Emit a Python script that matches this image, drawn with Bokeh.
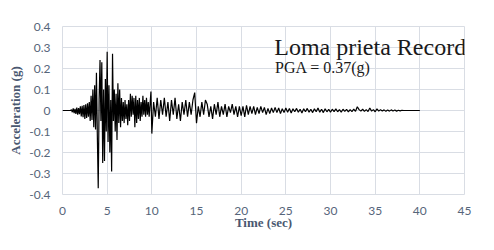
from bokeh.plotting import figure
from bokeh.models import Range1d, FixedTicker, Label
from bokeh.embed import file_html
from bokeh.resources import INLINE

# ---- data ----
# acceleration (g), sampled every 0.1 s from 0.0 to 9.9 s
ACC_0_10 = [
    0, 0, 0, 0, 0, 0, 0, 0, 0, 0,
    0.004, -0.008, 0.01, -0.012, 0.008, -0.016, 0.014, -0.02, 0.012, -0.018,
    0.02, -0.028, 0.022, -0.032, 0.026, -0.04, 0.03, -0.036, 0.034, -0.03,
    0.04, -0.05, 0.07, -0.045, 0.1, -0.08, 0.12, -0.09, 0.18, -0.12,
    -0.37, 0.05, 0.24, -0.05, 0.23, -0.25, 0.1, -0.24, 0.15, -0.1,
    0.28, -0.15, 0.12, -0.2, 0.05, -0.29, 0.27, -0.05, 0.1, -0.1,
    0.08, -0.14, 0.13, -0.06, 0.1, -0.08, 0.06, -0.05, 0.04, -0.06,
    0.05, -0.04, 0.03, -0.07, 0.05, -0.05, 0.08, -0.03, 0.07, -0.02,
    0.06, -0.08, 0.07, -0.06, 0.05, -0.04, 0.06, -0.05, 0.04, -0.03,
    0.07, -0.02, 0.05, -0.03, 0.06, -0.02, 0.04, -0.03, 0.03, 0.09,
]
# acceleration (g), sampled every 0.2 s from 10.0 to 40.0 s
ACC_10_40 = [
    -0.11, 0.04, -0.03, 0.06, -0.04, 0.05, -0.02, 0.06, -0.03, 0.04,
    -0.05, 0.05, -0.02, 0.06, -0.04, 0.03, -0.05, 0.04, -0.02, 0.05,
    -0.03, 0.04, -0.02, 0.05, 0.085, -0.06, 0.02, -0.03, 0.04, -0.02,
    0.05, 0.03, -0.03, 0.02, -0.04, 0.03, -0.02, 0.04, -0.03, 0.02,
    -0.02, 0.03, -0.03, 0.02, -0.01, 0.03, -0.02, 0.02, -0.03, 0.02,
    -0.025, 0.02, -0.03, 0.025, -0.02, 0.02, -0.015, 0.02, -0.02, 0.015,
    -0.015, 0.02, -0.01, 0.015, -0.02, 0.01, -0.015, 0.012, -0.01, 0.015,
    -0.01, 0.012, -0.015, 0.008, -0.01, 0.012, -0.008, 0.01, -0.012, 0.008,
    -0.006, 0.01, -0.008, 0.006, -0.012, 0.008, -0.006, 0.01, -0.008, 0.006,
    -0.01, 0.008, -0.006, 0.012, -0.008, 0.006, -0.01, 0.008, -0.006, 0.005,
    -0.008, 0.006, -0.005, 0.008, -0.006, 0.004, -0.008, 0.006, -0.004, 0.005,
    -0.006, 0.004, -0.005, 0.006, -0.004, 0.018, 0.004, -0.003, 0.006, -0.004,
    0.004, -0.005, 0.012, -0.003, 0.004, -0.006, 0.008, -0.003, 0.004, -0.002,
    0.003, -0.004, 0.002, -0.003, 0.003, -0.002, 0.002, -0.003, 0.001, -0.002,
    0.001, 0, 0, 0, 0, 0, 0, 0, 0, 0,
    0,
]
X_TICKS = [0, 5, 10, 15, 20, 25, 30, 35, 40, 45]
X_TICK_LABELS = ["0", "5", "10", "15", "20", "25", "30", "35", "40", "45"]
Y_TICKS = [-0.4, -0.3, -0.2, -0.1, 0, 0.1, 0.2, 0.3, 0.4]
Y_TICK_LABELS = ["-0.4", "-0.3", "-0.2", "-0.1", "0", "0.1", "0.2", "0.3", "0.4"]
TITLE = "Loma prieta Record"
SUBTITLE = "PGA = 0.37(g)"
X_LABEL = "Time (sec)"
Y_LABEL = "Acceleration (g)"

t = [round(i * 0.1, 1) for i in range(len(ACC_0_10))] + \
    [round(10 + i * 0.2, 1) for i in range(len(ACC_10_40))]
acc = ACC_0_10 + ACC_10_40

GRID = "#d9dde4"
TICK_COLOR = "#56657a"
LABEL_COLOR = "#4a5870"

p = figure(width=478, height=234, output_backend="svg", toolbar_location=None,
           x_range=Range1d(0, 45), y_range=Range1d(-0.4, 0.4),
           min_border_left=62, min_border_right=14, min_border_top=26, min_border_bottom=40)

p.line(t, acc, line_color="black", line_width=1.2)

p.xaxis.ticker = FixedTicker(ticks=X_TICKS)
p.yaxis.ticker = FixedTicker(ticks=Y_TICKS)
p.xaxis.major_label_overrides = dict(zip(X_TICKS, X_TICK_LABELS))
p.yaxis.major_label_overrides = dict(zip(Y_TICKS, Y_TICK_LABELS))

for ax in (p.xaxis[0], p.yaxis[0]):
    ax.axis_line_color = None
    ax.major_tick_line_color = None
    ax.minor_tick_line_color = None
    ax.major_tick_out = 0
    ax.major_tick_in = 0
    ax.major_label_text_font = "Lato"
    ax.major_label_text_font_size = "12px"
    ax.major_label_text_color = TICK_COLOR
    ax.axis_label_text_font = "Liberation Serif"
    ax.axis_label_text_font_style = "bold"
    ax.axis_label_text_font_size = "13px"
    ax.axis_label_text_color = LABEL_COLOR

p.xaxis.axis_label = X_LABEL
p.yaxis.axis_label = Y_LABEL
p.xaxis.major_label_standoff = 12
p.yaxis.major_label_standoff = 12
p.xaxis.axis_label_standoff = -3
p.yaxis.axis_label_standoff = 3

p.xgrid.grid_line_color = GRID
p.ygrid.grid_line_color = GRID
p.outline_line_color = GRID
p.background_fill_color = "white"
p.border_fill_color = "white"

# annotations
p.add_layout(Label(x=23.7, y=0.301, text=TITLE, text_font="Liberation Serif",
                   text_font_size="24px", text_color="#1a1a1a", text_baseline="alphabetic"))
p.add_layout(Label(x=23.8, y=0.207, text=SUBTITLE, text_font="Liberation Serif",
                   text_font_size="16px", text_color="#1a1a1a", text_baseline="alphabetic"))

open("out.html", "w").write(file_html(p, INLINE))
